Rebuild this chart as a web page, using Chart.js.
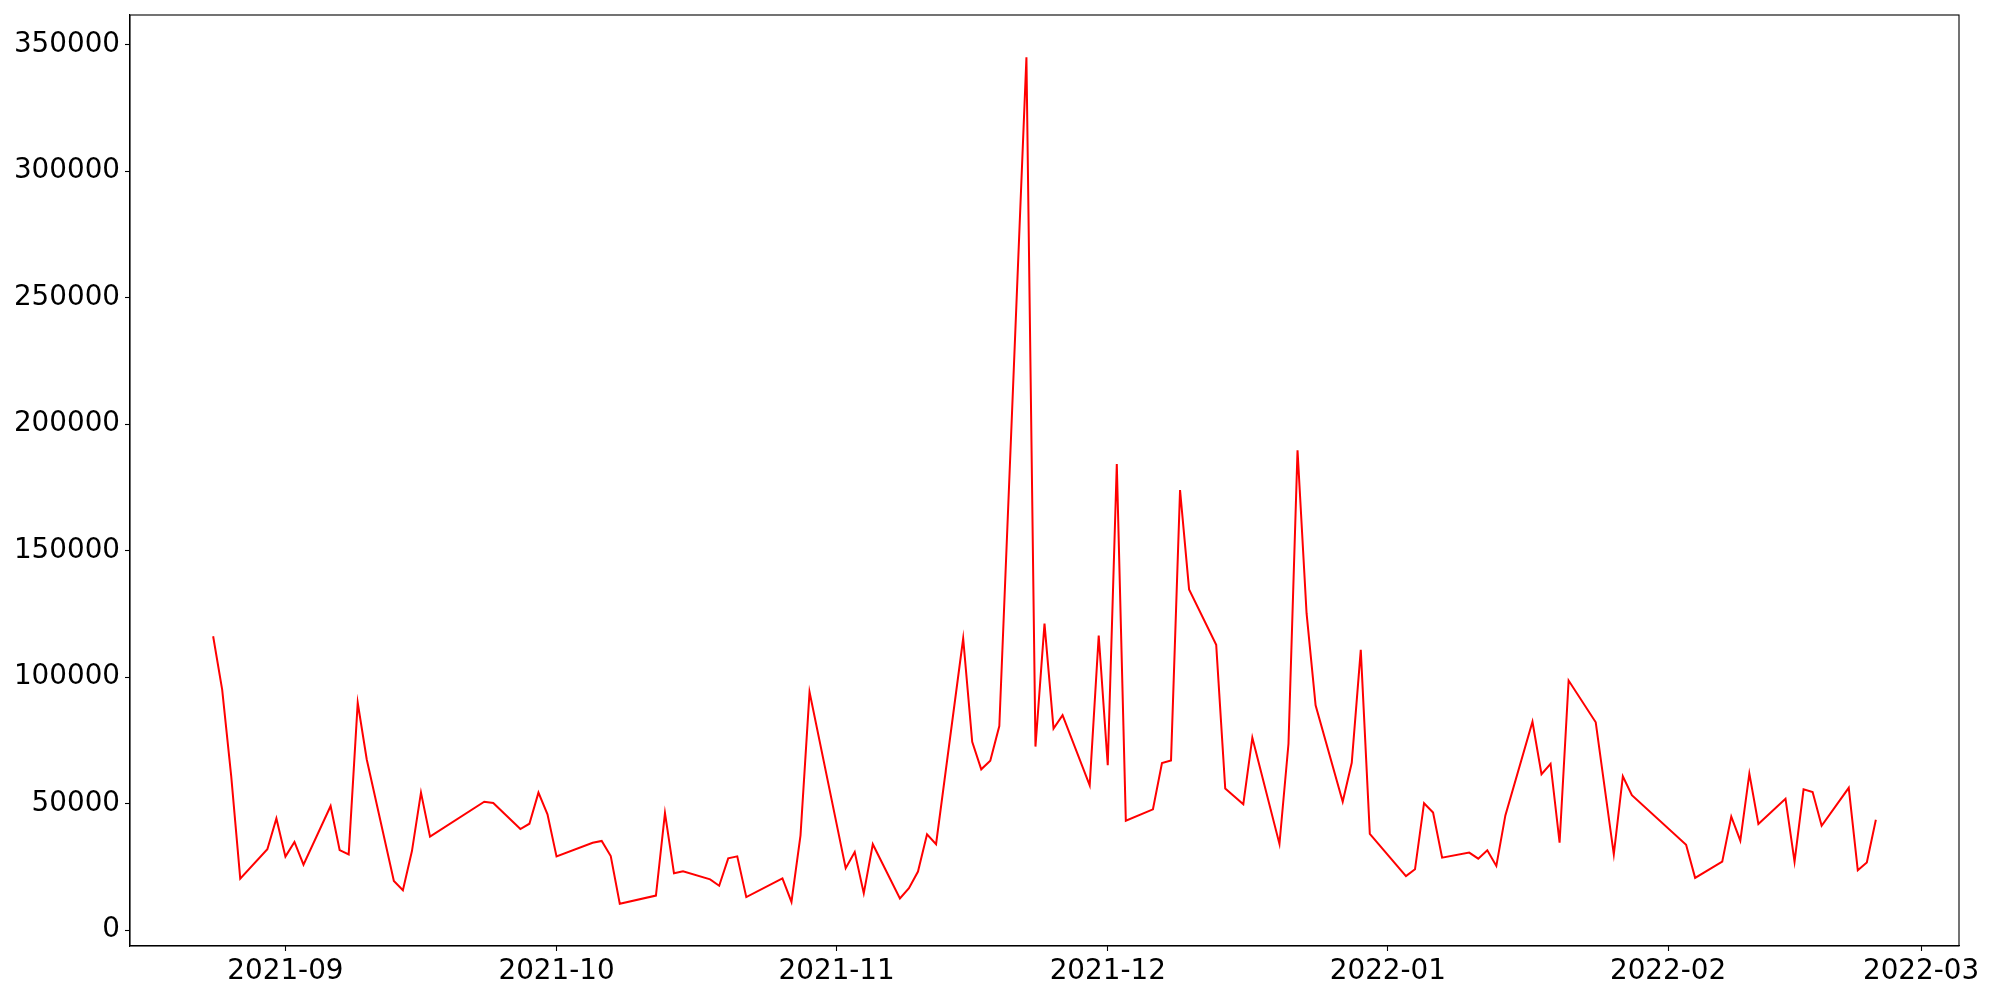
<!DOCTYPE html>
<html>
<head>
<meta charset="utf-8">
<script src="https://cdn.jsdelivr.net/npm/chart.js@4/dist/chart.umd.min.js"></script>
<style>
  html, body { margin: 0; padding: 0; background: #ffffff; }
  #wrap { width: 2000px; height: 1000px; }
</style>
</head>
<body>
<div id="wrap"><canvas id="c" width="2000" height="1000"></canvas></div>
<script>
// ---- data ----
const dates = [
  "2021-08-24","2021-08-25","2021-08-26","2021-08-27","2021-08-30","2021-08-31",
  "2021-09-01","2021-09-02","2021-09-03","2021-09-06","2021-09-07","2021-09-08","2021-09-09","2021-09-10",
  "2021-09-13","2021-09-14","2021-09-15","2021-09-16","2021-09-17","2021-09-23","2021-09-24",
  "2021-09-27","2021-09-28","2021-09-29","2021-09-30","2021-10-01","2021-10-05","2021-10-06","2021-10-07","2021-10-08",
  "2021-10-12","2021-10-13","2021-10-14","2021-10-15","2021-10-18","2021-10-19","2021-10-20","2021-10-21","2021-10-22",
  "2021-10-26","2021-10-27","2021-10-28","2021-10-29","2021-11-02","2021-11-03","2021-11-04","2021-11-05",
  "2021-11-08","2021-11-09","2021-11-10","2021-11-11","2021-11-12","2021-11-15","2021-11-16","2021-11-17","2021-11-18","2021-11-19",
  "2021-11-22","2021-11-23","2021-11-24","2021-11-25","2021-11-26","2021-11-29","2021-11-30","2021-12-01","2021-12-02","2021-12-03",
  "2021-12-06","2021-12-07","2021-12-08","2021-12-09","2021-12-10","2021-12-13","2021-12-14","2021-12-16","2021-12-17",
  "2021-12-20","2021-12-21","2021-12-22","2021-12-23","2021-12-24","2021-12-27","2021-12-28","2021-12-29","2021-12-30",
  "2022-01-03","2022-01-04","2022-01-05","2022-01-06","2022-01-07","2022-01-10","2022-01-11","2022-01-12","2022-01-13","2022-01-14",
  "2022-01-17","2022-01-18","2022-01-19","2022-01-20","2022-01-21","2022-01-24","2022-01-26","2022-01-27","2022-01-28",
  "2022-02-03","2022-02-04","2022-02-07","2022-02-08","2022-02-09","2022-02-10","2022-02-11",
  "2022-02-14","2022-02-15","2022-02-16","2022-02-17","2022-02-18","2022-02-21","2022-02-22","2022-02-23","2022-02-24"
];
const values = [
  116200, 95100, 60900, 20400, 32000, 44200,
  29100, 34900, 25900, 49100, 31700, 30000, 89900, 67500,
  19500, 15800, 31300, 54400, 37000, 50800, 50300,
  40000, 42100, 54400, 45800, 29200, 34600, 35300, 29300, 10500,
  13700, 46300, 22500, 23300, 20100, 17600, 28400, 29200, 13100,
  20500, 11200, 37500, 94100, 24500, 30900, 14600, 34000,
  12600, 16600, 23200, 37900, 34000, 115300, 74500, 63600, 67000, 80700,
  345000, 72600, 121200, 79700, 85000, 57300, 116500, 65200, 184300, 43300,
  47800, 66100, 67100, 174000, 134700, 112800, 56000, 49800, 76100,
  34100, 73700, 189700, 125300, 88900, 50800, 66200, 110800, 38100,
  21400, 24100, 50200, 46500, 28700, 30700, 28300, 31600, 25400, 45400,
  82400, 61700, 65800, 34600, 98700, 82200, 30000, 60800, 53400,
  33800, 20700, 27100, 44900, 35400, 61900, 42000,
  52000, 27100, 55700, 54600, 41300, 56300, 23700, 26800, 43700
];
const xTickLabels = ["2021-09","2021-10","2021-11","2021-12","2022-01","2022-02","2022-03"];
const yTickValues = [0, 50000, 100000, 150000, 200000, 250000, 300000, 350000];
const seriesColor = "#ff0000";

// ---- helpers ----
const DAY = 86400000;
function dayNum(s) {
  const p = s.split("-").map(Number);
  return Date.UTC(p[0], p[1] - 1, p[2] || 1) / DAY;
}
const points = dates.map((d, i) => ({ x: dayNum(d), y: values[i] }));
const xTicks = xTickLabels.map(dayNum);

const xs = points.map(p => p.x), ys = values;
const xMinD = Math.min(...xs), xMaxD = Math.max(...xs);
const yMinD = Math.min(...ys), yMaxD = Math.max(...ys);
const xPad = (xMaxD - xMinD) * 0.05, yPad = (yMaxD - yMinD) * 0.05;

const FONT = "'DejaVu Sans', sans-serif";
Chart.defaults.font.family = FONT;
Chart.defaults.color = "#000000";

const framePlugin = {
  id: "frame",
  afterDraw(chart) {
    const a = chart.chartArea, ctx = chart.ctx;
    ctx.save();
    ctx.strokeStyle = "#000000";
    ctx.lineWidth = 1.1;
    ctx.strokeRect(a.left, a.top, a.right - a.left, a.bottom - a.top);
    ctx.restore();
  }
};

new Chart(document.getElementById("c"), {
  type: "line",
  data: {
    datasets: [{
      data: points,
      borderColor: seriesColor,
      backgroundColor: seriesColor,
      borderWidth: 2,
      pointRadius: 0,
      tension: 0,
      fill: false
    }]
  },
  options: {
    responsive: false,
    animation: false,
    devicePixelRatio: 1,
    layout: { padding: { top: 15, right: 41, left: 0, bottom: 0 } },
    plugins: { legend: { display: false }, tooltip: { enabled: false } },
    scales: {
      x: {
        type: "linear",
        min: xMinD - xPad,
        max: xMaxD + xPad,
        afterBuildTicks(scale) { scale.ticks = xTicks.map(v => ({ value: v })); },
        afterFit(scale) { scale.height = 54; scale.paddingLeft = 0; scale.paddingRight = 0; },
        ticks: {
          autoSkip: false, maxRotation: 0, minRotation: 0,
          padding: 4,
          font: { size: 27.8, family: FONT },
          color: "#000000",
          callback: (v, i) => xTickLabels[i]
        },
        grid: { display: true, drawOnChartArea: false, drawTicks: true, tickLength: 5, tickColor: "#000000", tickWidth: 1.1 },
        border: { display: true, color: "#000000", width: 1.1 }
      },
      y: {
        type: "linear",
        min: yMinD - yPad,
        max: yMaxD + yPad,
        afterBuildTicks(scale) { scale.ticks = yTickValues.map(v => ({ value: v })); },
        afterFit(scale) { scale.width = 130; scale.paddingTop = 0; scale.paddingBottom = 0; },
        ticks: {
          padding: 5,
          font: { size: 27.8, family: FONT },
          color: "#000000",
          callback: v => String(v)
        },
        grid: { display: true, drawOnChartArea: false, drawTicks: true, tickLength: 5, tickColor: "#000000", tickWidth: 1.1 },
        border: { display: true, color: "#000000", width: 1.1 }
      }
    }
  },
  plugins: [framePlugin]
});
</script>
</body>
</html>
